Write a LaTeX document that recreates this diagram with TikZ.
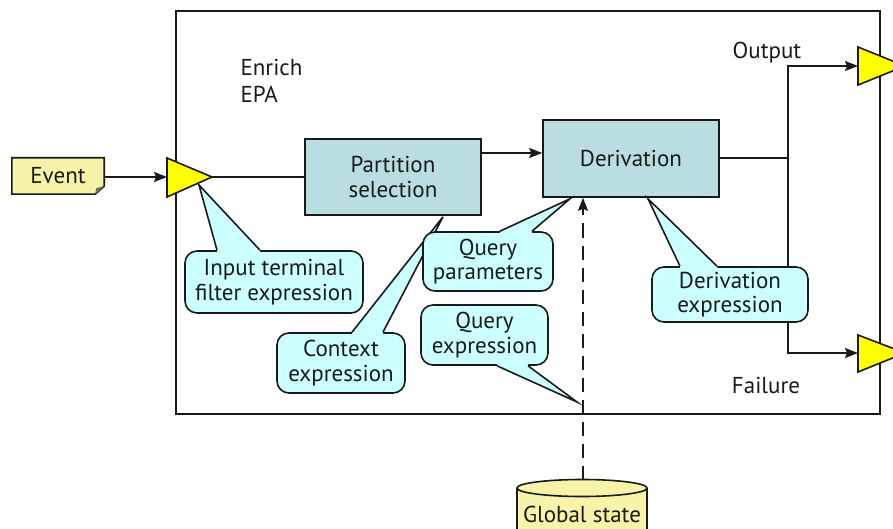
\documentclass[tikz,border=0pt]{standalone}
\usepackage{fontspec}
\setmainfont{PT Sans}
\usetikzlibrary{arrows.meta,calc}
\definecolor{notefill}{HTML}{F7F3A8}
\definecolor{termfill}{HTML}{FFFF00}
\definecolor{procfill}{HTML}{B9DDE0}
\definecolor{callfill}{HTML}{CCFFFF}
\definecolor{ink}{HTML}{1A1A1A}
\tikzset{
  every node/.style={font=\fontsize{23}{24.5}\selectfont, text=ink},
  ln/.style={line width=1.6pt, draw=ink},
  arr/.style={ln, -{Stealth[length=13pt,width=10pt,inset=2pt]}},
  procbox/.style={ln, fill=procfill, rectangle, inner sep=0pt, align=center},
  callbox/.style={ln, fill=callfill, rectangle, rounded corners=12pt, inner sep=0pt, align=center},
  terminal/.style={ln, fill=termfill, line join=miter},
}
% pointer of a callout: base points b1,b2 on the edge, tip t, inward shift d (pixels)
\newcommand\calloutptr[4]{%
  \fill[callfill] ($#1+(0,#4)$) -- #1 -- #3 -- #2 -- ($#2+(0,#4)$) -- cycle;
  \draw[ln, line join=miter] #1 -- #3 -- #2;
}
\begin{document}
\begin{tikzpicture}[x=1pt,y=-1pt]
\useasboundingbox (0,0) rectangle (893,529);
\fill[white] (0,0) rectangle (893,529);

% enclosing EPA box
\draw[ln] (176,11) rectangle (880,414);
\node[anchor=west, align=left, font=\fontsize{23}{27}\selectfont] (epa) at (237,81) {Enrich\\EPA};

% terminals
\draw[terminal] (167,158) -- (167,197) -- (212,177) -- cycle;
\coordinate (inL) at (167,177);
\coordinate (inR) at (212,177);
\coordinate (inTip) at (199,185);
\draw[terminal] (858,47) -- (858,85) -- (905,66) -- cycle;
\coordinate (outL) at (858,66);
\draw[terminal] (858,335) -- (858,372) -- (905,353) -- cycle;
\coordinate (failL) at (858,353);

% event note
\node[minimum width=92pt, minimum height=36pt, inner sep=0pt] (event) at (58,176) {Event};
\draw[ln, fill=notefill, line join=miter]
  (event.north west) -- (event.north east) -- ($(event.south east)+(0,-8)$)
  -- ($(event.south east)+(-9,0)$) -- (event.south west) -- cycle;
\fill[ink!60!notefill] ($(event.south east)+(0,-8)$) -- ($(event.south east)+(-8,-6)$) -- ($(event.south east)+(-9,0)$) -- cycle;
\node at (event.center) {Event};

% processing boxes
\node[procbox, minimum width=176pt, minimum height=76pt] (part) at (393,177) {Partition\\selection};
\node[procbox, minimum width=176pt, minimum height=77pt] (der) at (631,158.5) {Derivation};

% flow
\draw[arr] (event.east |- inL) -- (inL);
\draw[ln] (inR) -- (part.west |- inR);
\draw[arr] ([yshift=24pt]part.east) coordinate (pa) -- (pa -| der.west);
\coordinate (j) at (788,158);
\draw[ln] (der.east |- j) -- (j);
\draw[arr] (j) |- (outL);
\draw[arr] (j) |- (failL);
\node (out) at (767,53) {Output};
\node (fail) at (766,385) {Failure};

% global state store
\fill[notefill] (517,488) rectangle (647,545);
\draw[ln] (517,488) -- (517,545);
\draw[ln] (647,488) -- (647,545);
\draw[ln, fill=notefill] (582,488) ellipse [x radius=65, y radius=8.5];
\coordinate (gsTop) at (583,479.5);
\node (gs) at (582,514) {Global state};
\draw[ln, dash pattern=on 14pt off 8pt, -{Stealth[length=13pt,width=10pt,inset=2pt]}] (gsTop) -- (gsTop |- der.south);

% callouts
\node[callbox, minimum width=178pt, minimum height=62pt] (inp) at (274,282) {Input terminal\\filter expression};
\calloutptr{($(inp.north)+(-57,0)$)}{($(inp.north)+(-14,0)$)}{(inTip)}{3}

\node[callbox, minimum width=128pt, minimum height=60pt] (ctx) at (341,363) {Context\\expression};
\calloutptr{($(ctx.north)+(11,0)$)}{($(ctx.north)+(42,0)$)}{($(part.south)+(50,1)$)}{3}

\node[callbox, minimum width=130pt, minimum height=59pt] (qp) at (488,261.5) {Query\\parameters};
\calloutptr{($(qp.north)+(12,0)$)}{($(qp.north)+(44,0)$)}{($(der.south)+(-61,1)$)}{3}

\node[callbox, minimum width=127pt, minimum height=60pt] (qe) at (484.5,335) {Query\\expression};
\coordinate (qeTip) at (577,402);
\calloutptr{($(qe.south)+(12.5,0)$)}{($(qe.south)+(43.5,0)$)}{(qeTip)}{-3}

\node[callbox, minimum width=156pt, minimum height=55pt] (dex) at (730,294.5) {Derivation\\expression};
\calloutptr{($(dex.north)+(-50,0)$)}{($(dex.north)+(-13,0)$)}{($(der.south)+(17,1)$)}{3}
\end{tikzpicture}
\end{document}
